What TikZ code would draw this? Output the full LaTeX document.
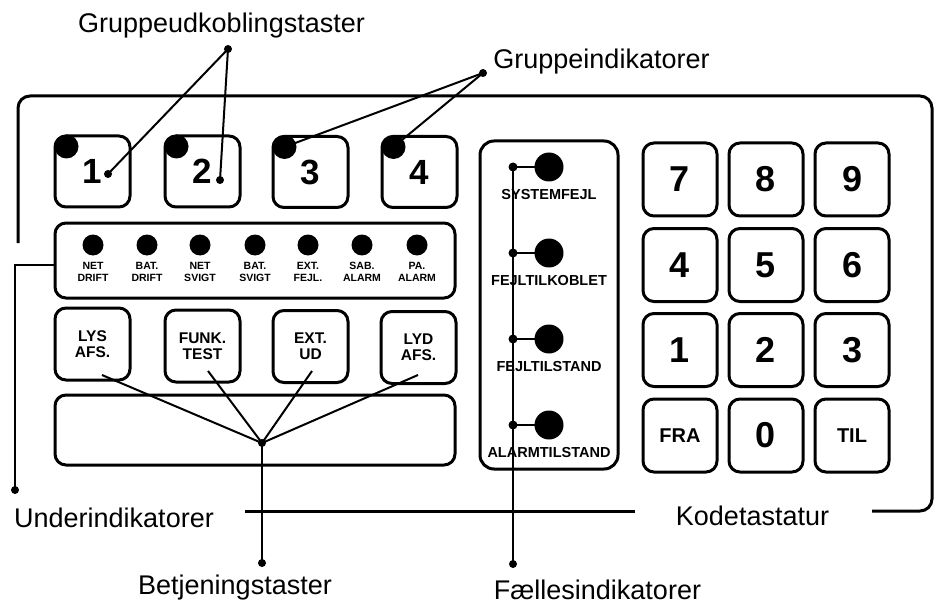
\documentclass[tikz,border=0pt]{standalone}
\usepackage{fontspec}
\setmainfont{Liberation Sans}
\begin{document}
\begin{tikzpicture}[x=1pt,y=-1pt,
  box/.style={draw, line width=3pt, rounded corners=11pt, inner sep=0pt},
  gkey/.style={box, minimum width=75pt, minimum height=71pt, font=\bfseries\fontsize{35}{35}\selectfont},
  ckey/.style={box, minimum width=75pt, minimum height=72pt, align=center, font=\bfseries\fontsize{15.5}{16}\selectfont},
  nkey/.style={box, minimum width=74pt, minimum height=73pt, font=\bfseries\fontsize{36}{36}\selectfont},
  wkey/.style={box, minimum width=74pt, minimum height=73pt, font=\bfseries\fontsize{20}{20}\selectfont},
  gdot/.style={circle, fill, inner sep=0pt, minimum size=24pt},
  sled/.style={circle, fill, inner sep=0pt, minimum size=21pt},
  bled/.style={circle, fill, inner sep=0pt, minimum size=29pt},
  pin/.style={circle, fill, inner sep=0pt, minimum size=8pt},
  slab/.style={align=center, inner sep=0pt, font=\bfseries\fontsize{10.5}{12}\selectfont},
  blab/.style={inner sep=0pt, font=\bfseries\fontsize{14.5}{14.5}\selectfont},
  title/.style={inner sep=0pt, anchor=base, font=\fontsize{27}{27}\selectfont},
  lead/.style={line width=2pt},
  frame/.style={line width=3pt}]
\useasboundingbox (0,0) rectangle (942,604);

% outer frame
\draw[frame, rounded corners=12pt] (18,243) -- (18,96) -- (932,96) -- (932,511) -- (872,511);
\coordinate (bl) at (245,511);
\coordinate (br) at (635,511);
\draw[frame] (bl) -- (br);

% group keys
\node[gkey] (g1) at (92.5,171.5) {1};
\node[gkey] (g2) at (202.5,171.5) {2};
\node[gkey] (g3) at (310.5,172) {3};
\node[gkey] (g4) at (419.5,172) {4};
\foreach \i in {1,2,3,4} {
  \node[gdot] (gd\i) at ([xshift=13pt,yshift=-12pt]g\i.north west) {};
}

% indicator row
\draw[box] (55,223) rectangle (455,298);
\coordinate (rowleft) at (55,265);
\foreach \x/\a/\b [count=\i] in {93/NET/DRIFT,147/BAT./DRIFT,200/NET/SVIGT,255/BAT./SVIGT,308/EXT./FEJL.,362/SAB./ALARM,417/PA./ALARM} {
  \node[sled] (l\i) at (\x,245) {};
  \node[slab] (lt\i) at (\x,272) {\a\\\b};
}

% control keys
\node[ckey] (c1) at (92.5,344) {LYS\\AFS.};
\node[ckey] (c2) at (202.5,346) {FUNK.\\TEST};
\node[ckey] (c3) at (310.5,346.5) {EXT.\\UD};
\node[ckey] (c4) at (418.5,347.5) {LYD\\AFS.};

% display
\draw[box] (55,395) rectangle (455,465);

% common indicators
\draw[box, rounded corners=14pt] (480,141) rectangle (618,469);
\foreach \y/\t [count=\i] in {167/SYSTEMFEJL,253/FEJLTILKOBLET,339/FEJLTILSTAND,425/ALARMTILSTAND} {
  \node[bled] (b\i) at (549,\y) {};
  \node[pin, minimum size=9pt] (j\i) at (513,\y) {};
  \node[blab] (bt\i) at (549,\y+28) {\t};
  \draw[lead] (j\i.center) -- (b\i.center);
}

% keypad
\node[nkey] (k7) at (680,179.5) {7};
\node[nkey] (k8) at (766,179.5) {8};
\node[nkey] (k9) at (852,179.5) {9};
\node[nkey] (k4) at (680,265) {4};
\node[nkey] (k5) at (766,265) {5};
\node[nkey] (k6) at (852,265) {6};
\node[nkey] (k1) at (680,350) {1};
\node[nkey] (k2) at (766,350) {2};
\node[nkey] (k3) at (852,350) {3};
\node[wkey] (kfra) at (680,435.5) {FRA};
\node[nkey] (k0) at (766,435.5) {0};
\node[wkey] (ktil) at (852,435.5) {TIL};

% labels
\node[title] (tgu) at (221.5,33) {Gruppeudkoblingstaster};
\node[title] (tgi) at (601.5,69) {Gruppeindikatorer};
\node[title] (tui) at (114,527) {Underindikatorer};
\node[title] (tbt) at (235,594) {Betjeningstaster};
\node[title] (tkt) at (752.5,525) {Kodetastatur};
\node[title] (tfi) at (597.5,599) {Fællesindikatorer};

% leaders: Gruppeudkoblingstaster
\node[pin] (pgu) at (228,49) {};
\node[pin] (pg1) at (108,174) {};
\node[pin] (pg2) at (220,180) {};
\draw[lead] (pgu.center) -- (pg1.center);
\draw[lead] (pgu.center) -- (pg2.center);

% leaders: Gruppeindikatorer
\node[pin] (pgi) at (483,73) {};
\draw[lead] (pgi.center) -- (gd3.center);
\draw[lead] (pgi.center) -- (gd4.center);

% leaders: Underindikatorer
\node[pin] (pui) at (15,490) {};
\coordinate (uic) at (15,265);
\draw[lead] (rowleft) -- (uic) -- (pui.center);

% leaders: Betjeningstaster
\node[pin] (pbc) at (262,443) {};
\node[pin] (pbt) at (262,563) {};
\coordinate (c1e) at (102,375);
\coordinate (c2e) at (208,371);
\coordinate (c3e) at (312,371);
\coordinate (c4e) at (418,375);
\foreach \c in {c1e,c2e,c3e,c4e} { \draw[lead] (\c) -- (pbc.center); }
\draw[lead] (pbc.center) -- (pbt.center);

% leaders: Faellesindikatorer
\node[pin] (pfi) at (513,564) {};
\draw[lead] (j1.center) -- (pfi.center);
\end{tikzpicture}
\end{document}
